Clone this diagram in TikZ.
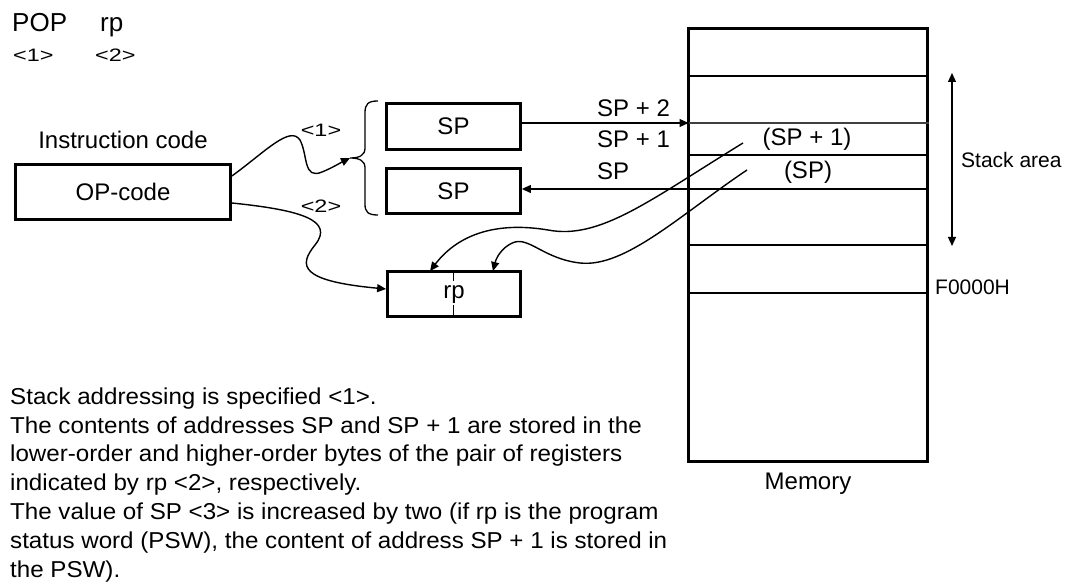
\documentclass[tikz,border=0pt]{standalone}
\usepackage{fontspec}
\setmainfont{Liberation Sans}
\newfontfamily\bodyfont[FakeStretch=1.05]{Liberation Sans}
\usetikzlibrary{arrows.meta}
\tikzset{
  box/.style={draw, line width=2.8pt, inner sep=0pt, font=\fontsize{24}{28}\selectfont},
  lbl/.style={inner sep=0pt, anchor=base, font=\fontsize{24}{28}\selectfont},
  lblw/.style={inner sep=0pt, anchor=base west, font=\fontsize{24}{28}\selectfont},
  tri/.style={-{Triangle[length=9pt,width=8pt]}},
  conn/.style={line width=1.2pt, tri},
  wavy/.style={line width=1.4pt, tri},
  memline/.style={line width=2pt},
}
\newcommand{\wlab}[1]{\scalebox{1.3}[1]{\fontsize{18}{21}\selectfont #1}}
\begin{document}
\begin{tikzpicture}[x=1pt,y=-1pt]
\useasboundingbox (0,0) rectangle (1069,585);

% title
\node[anchor=base west, inner sep=0pt, font=\fontsize{26}{30}\selectfont] (pop) at (12,32) {POP};
\node[anchor=base west, inner sep=0pt, font=\fontsize{26}{30}\selectfont] (rpt) at (100,32) {rp};
\node[anchor=base west, inner sep=0pt] (t1) at (13,62) {\wlab{<1>}};
\node[anchor=base west, inner sep=0pt] (t2) at (95,62) {\wlab{<2>}};

% instruction code
\node[lbl] (ic) at (123,149) {Instruction code};
\node[box, minimum width=215pt, minimum height=55pt] (op) at (123,192) {OP-code};

% SP boxes
\node[box, minimum width=134pt, minimum height=46pt] (sp1) at (453.5,126.5) {SP};
\node[box, minimum width=134pt, minimum height=45pt] (sp2) at (453.5,191) {SP};

% brace
\coordinate (brT) at (350,158);
\draw[line width=1.3pt] (378,101) .. controls (368,101) and (365,104) .. (365,113) -- (365,148)
  .. controls (365,155) and (360,158) .. (brT)
  .. controls (360,158) and (365,161) .. (365,168) -- (365,204)
  .. controls (365,212) and (368,215) .. (378,215);

% rp box
\node[box, minimum width=133pt, minimum height=45pt] (rp) at (454,294) {};
\node[lbl] (rptext) at (454,299) {rp};
\draw[line width=1pt] (453,271.5) -- (453,281);
\draw[line width=1pt] (453,305) -- (453,316.5);

% memory
\node[draw, line width=3pt, minimum width=238.5pt, minimum height=432.5pt, inner sep=0pt] (mem) at (807.75,244.75) {};
\coordinate (m1) at (688.5,76);
\coordinate (m2) at (688.5,123);
\coordinate (m3) at (688.5,155);
\coordinate (m4) at (688.5,189);
\coordinate (m5) at (688.5,245);
\coordinate (m6) at (688.5,293);
\foreach \m in {m1,m3,m4,m5,m6} \draw[memline] (\m) -- (\m -| mem.east);
\draw[line width=1.6pt, black!75] (m2) -- (m2 -| mem.east);

\node[lbl] (sp1c) at (807,146) {(SP + 1)};
\node[lbl] (spc) at (808,179) {(SP)};
\node[anchor=base west, inner sep=0pt, font=\fontsize{21}{25}\selectfont] (f0) at (935,295) {F0000H};
\node[anchor=base west, inner sep=0pt, font=\fontsize{21}{25}\selectfont] (sa) at (961,168) {Stack area};
\node[lbl, font=\fontsize{24}{28}\selectfont] (memt) at (808,489) {Memory};

% stack area arrow
\coordinate (saT) at (952,73);
\coordinate (saB) at (952,246);
\draw[line width=1.2pt, {Triangle[length=9pt,width=8pt]}-{Triangle[length=9pt,width=8pt]}] (saT) -- (saB);

% SP labels
\node[lblw] (l2) at (597,117) {SP + 2};
\node[lblw] (l1) at (597,148) {SP + 1};
\node[lblw] (l0) at (597,180) {SP};

% connectors SP <-> memory
\draw[conn] (sp1.east |- m2) -- (m2);
\draw[conn] (m4) -- (sp2.east |- m4);

% wavy arrows from OP-code
\draw[wavy] ([yshift=16pt]op.east) .. controls (265,152) and (290,125) .. (300,140)
  .. controls (308,155) and (303,180) .. (322,172)
  .. controls (332,168) and (340,163) .. (brT);
\node[anchor=base, inner sep=0pt] (c1) at (321,137) {\wlab{<1>}};
\draw[wavy] ([yshift=-11pt]op.east) .. controls (300,210) and (335,220) .. (315,245)
  .. controls (298,266) and (300,281) .. ([yshift=5pt]rp.west);
\node[anchor=base, inner sep=0pt] (c2) at (321,213) {\wlab{<2>}};

% wavy arrows from memory to rp
\coordinate (s1) at (743,143);
\coordinate (s0) at (747,170);
\coordinate (rpA) at (430,271);
\coordinate (rpB) at (493,271);
\draw[wavy] (s1) .. controls (650,200) and (600,240) .. (548,230)
  .. controls (500,222) and (460,232) .. (rpA);
\draw[wavy] (s0) .. controls (680,215) and (625,268) .. (580,263)
  .. controls (545,259) and (530,238) .. (515,242)
  .. controls (505,245) and (497,255) .. (rpB);

% bottom text
\node[anchor=base west, inner sep=0pt, align=left, font=\bodyfont\fontsize{23}{28.8}\selectfont] (desc) at (10,577)
{Stack addressing is specified <1>.\\
The contents of addresses SP and SP + 1 are stored in the\\
lower-order and higher-order bytes of the pair of registers\\
indicated by rp <2>, respectively.\\
The value of SP <3> is increased by two (if rp is the program\\
status word (PSW), the content of address SP + 1 is stored in\\
the PSW).};
\end{tikzpicture}
\end{document}
